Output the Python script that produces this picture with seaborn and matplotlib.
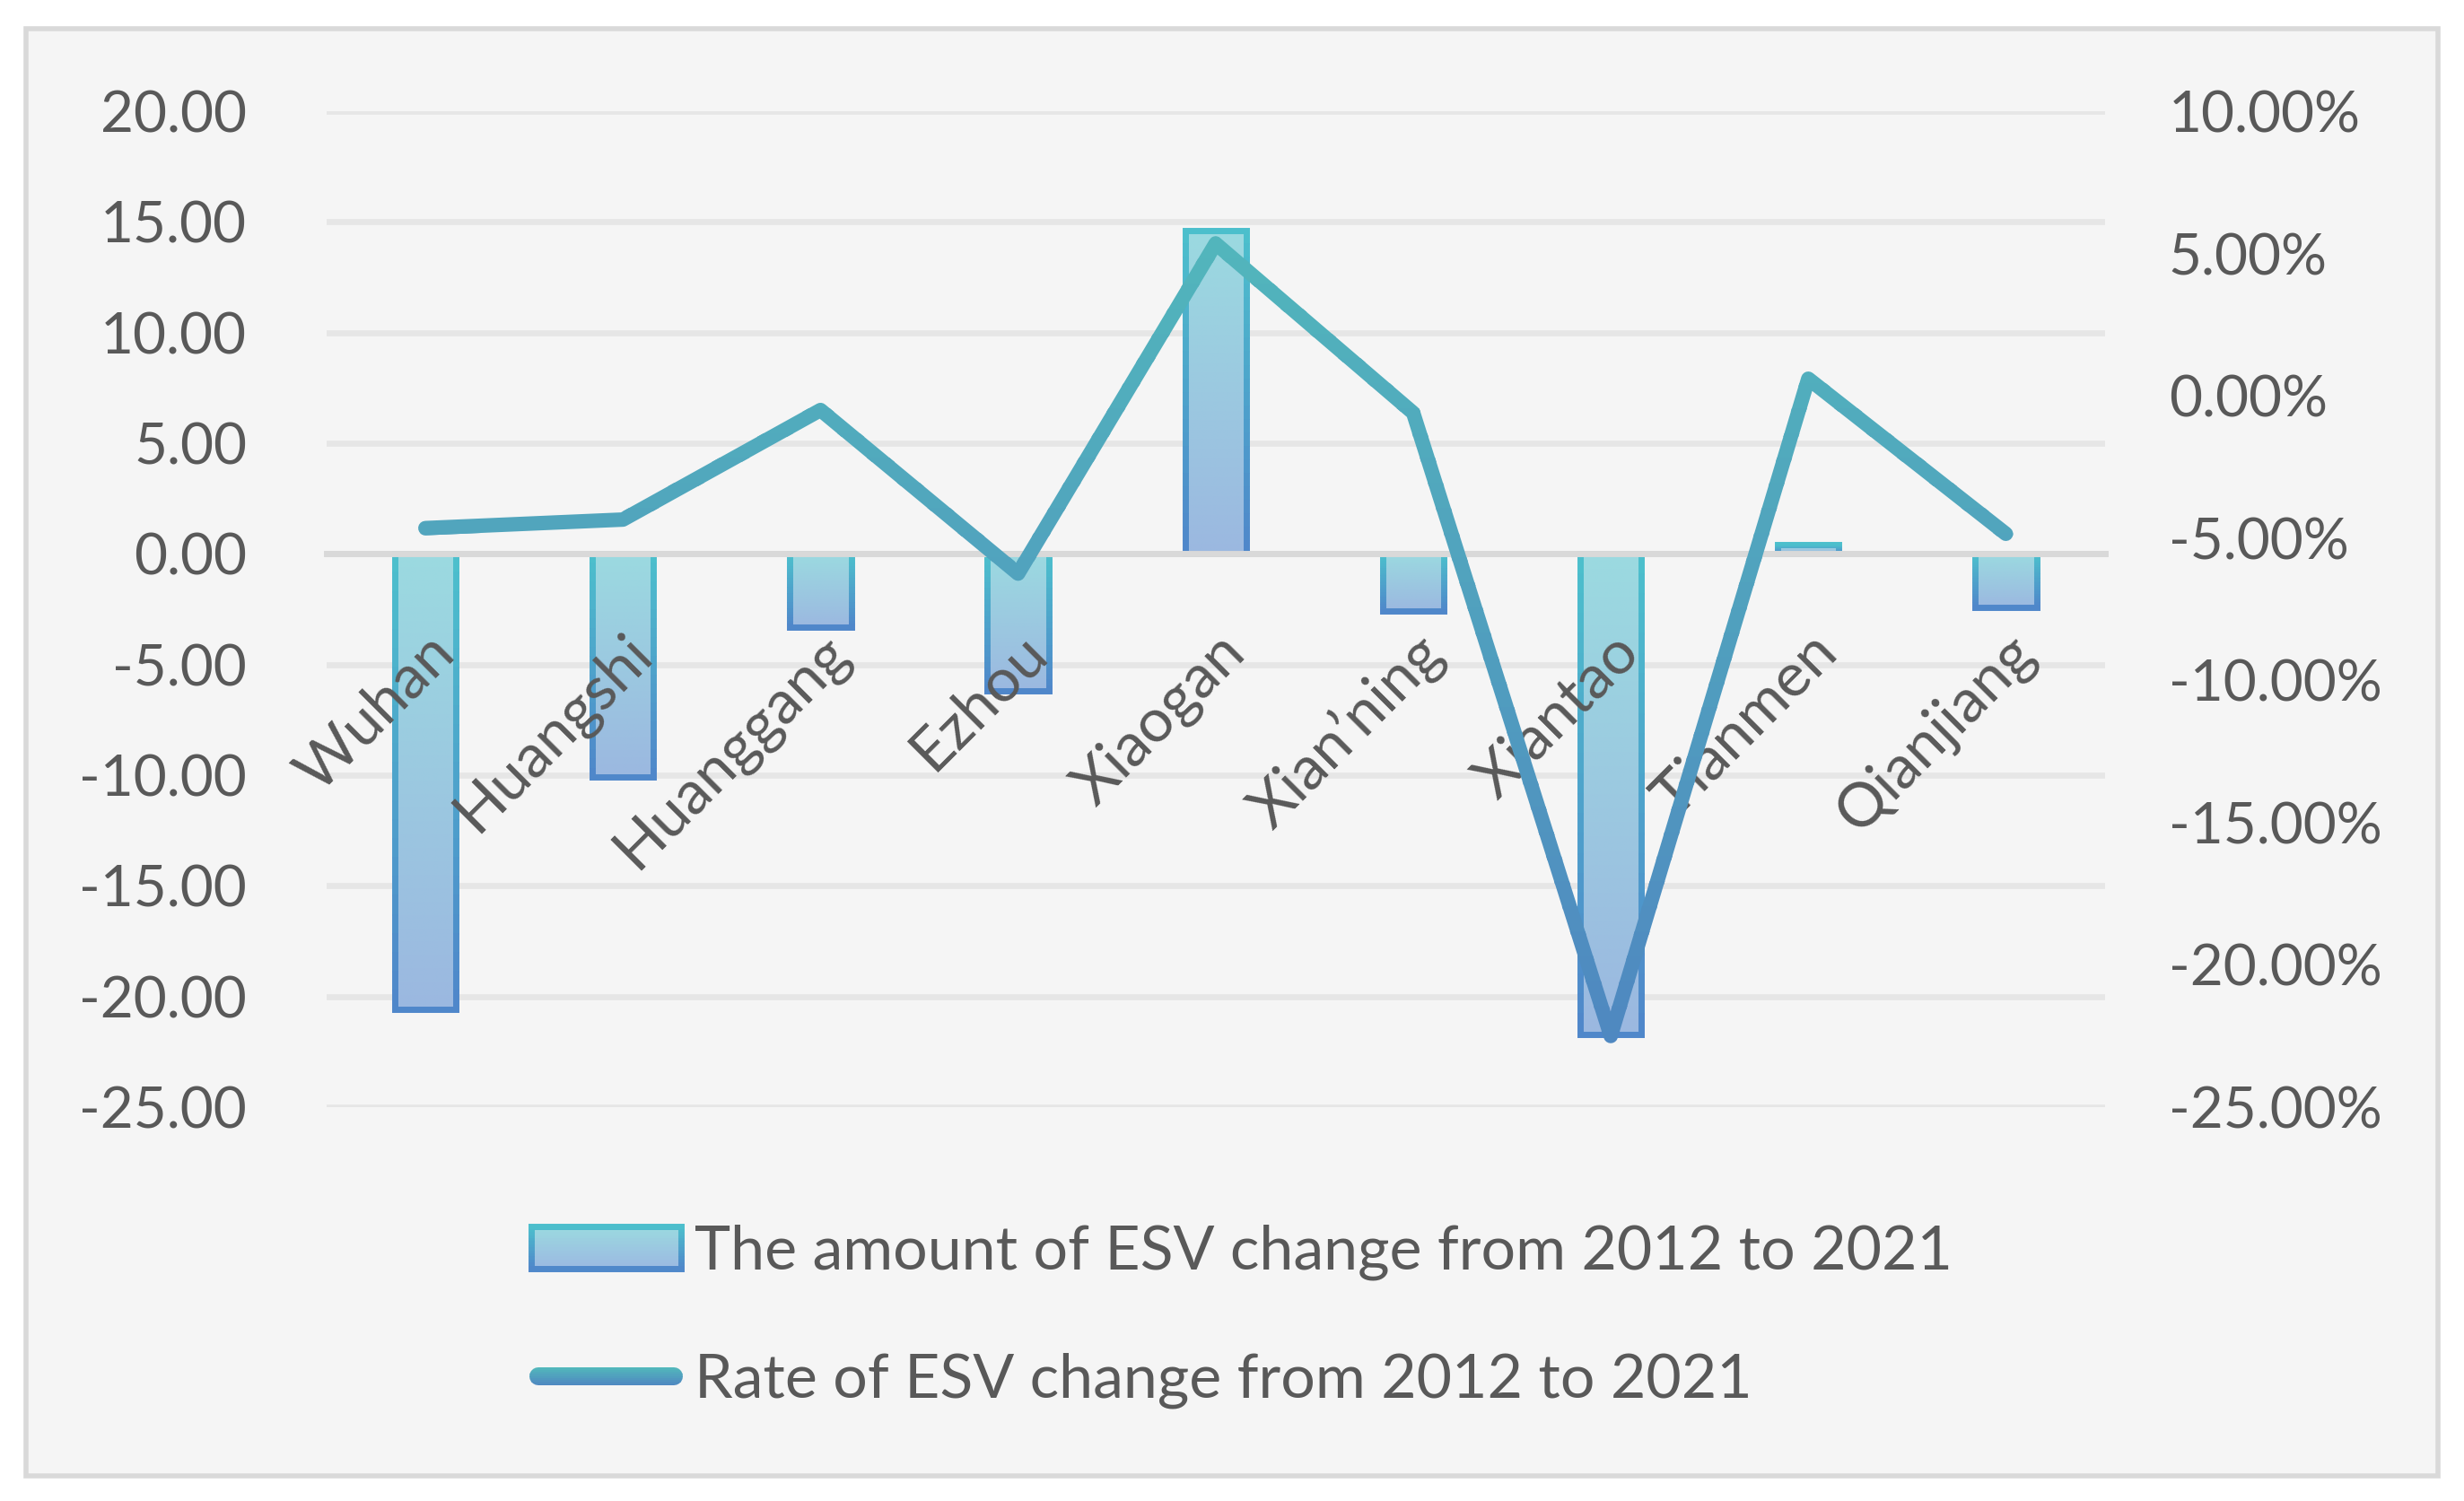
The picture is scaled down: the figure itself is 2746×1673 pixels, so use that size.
import matplotlib
matplotlib.use('Agg')
import matplotlib.pyplot as plt
import seaborn as sns
import pandas as pd
import numpy as np
from matplotlib.patches import Rectangle, Patch
from matplotlib.lines import Line2D
from matplotlib.colors import LinearSegmentedColormap, to_rgb
from matplotlib.legend_handler import HandlerBase

cities = ['Wuhan', 'Huangshi', 'Huanggang', 'Ezhou', 'Xiaogan',
          'Xian\u2019ning', 'Xiantao', 'Tianmen', 'Qianjiang']
esv_amount = [-20.6, -10.1, -3.3, -6.2, 14.6, -2.6, -21.7, 0.4, -2.4]
esv_rate = [-4.65, -4.35, -0.5, -6.25, 5.35, -0.6, -22.5, 0.6, -4.85]  # percent

left_ticks = [20, 15, 10, 5, 0, -5, -10, -15, -20, -25]
right_ticks = [10, 5, 0, -5, -10, -15, -20, -25]

bar_label = 'The amount of ESV change from 2012 to 2021'
line_label = 'Rate of ESV change from 2012 to 2021'

fill_top, fill_bot = '#9bdae0', '#9bb8e1'
edge_top, edge_bot = '#4cc0cc', '#4f86ca'
line_top, line_bot = '#52bdbb', '#4f84c1'
text_col = '#595959'


def mix(c1, c2, t):
    a, b = np.array(to_rgb(c1)), np.array(to_rgb(c2))
    return tuple(a + (b - a) * t)


sns.set_style('white')
plt.rcParams['font.family'] = ['Lato', 'DejaVu Sans']

df = pd.DataFrame({'city': cities, 'amount': esv_amount,
                   'rate': esv_rate, 'pos': np.arange(len(cities))})

fig = plt.figure(figsize=(13.73, 8.365), dpi=200)
fig.patch.set_facecolor('white')
fig.patches.append(Rectangle((29 / 2746, 1 - 1645 / 1673), (2717 - 29) / 2746,
                             (1645 - 32) / 1673, transform=fig.transFigure,
                             facecolor='#f5f5f5', edgecolor='#d9d9d9', lw=2,
                             zorder=-1))

ax = fig.add_axes([364 / 2746, 1 - 1234 / 1673, (2345.5 - 364) / 2746, (1234 - 124) / 1673])
ax.set_facecolor('none')

sns.barplot(data=df, x='city', y='amount', ax=ax, width=0.31, color=fill_top,
            saturation=1, zorder=2)
ax.set_ylim(-25, 20)
ax.set_xlim(-0.5, len(cities) - 0.5)

# gradient bars
cmap_fill = LinearSegmentedColormap.from_list('fill', [fill_bot, fill_top])
grad = np.linspace(0, 1, 256).reshape(-1, 1)
nb = 24
for p in list(ax.patches):
    x0, w = p.get_x(), p.get_width()
    y_lo = min(p.get_y(), p.get_y() + p.get_height())
    y_hi = max(p.get_y(), p.get_y() + p.get_height())
    p.set_facecolor('none')
    p.set_edgecolor('none')
    im = ax.imshow(grad, extent=[x0, x0 + w, y_lo, y_hi], origin='lower',
                   cmap=cmap_fill, aspect='auto', zorder=2, interpolation='bilinear')
    im.set_clip_path(p)
    hgt = (y_hi - y_lo) / nb
    for i in range(nb):
        t = (i + 0.5) / nb
        b_hi = y_hi - i * hgt + (1 if i == 0 else hgt * 0.05)
        b_lo = y_hi - (i + 1) * hgt - (1 if i == nb - 1 else hgt * 0.05)
        r = Rectangle((x0, y_lo), w, y_hi - y_lo, fill=False,
                      edgecolor=mix(edge_top, edge_bot, t), lw=2.5, zorder=2.1)
        ax.add_patch(r)
        r.set_clip_path(Rectangle((x0 - 0.2, b_lo), w + 0.4, b_hi - b_lo,
                                  transform=ax.transData))
ax.set_ylim(-25, 20)
ax.set_xlim(-0.5, len(cities) - 0.5)

ax.set_yticks(left_ticks)
ax.set_yticklabels([f'{v:.2f}' for v in left_ticks])
ax.grid(axis='y', color='#e6e6e6', lw=2.4)
ax.grid(axis='x', visible=False)
ax.yaxis.set_zorder(0.5)
ax.xaxis.set_zorder(2.6)
for s in ['top', 'left', 'right']:
    ax.spines[s].set_visible(False)
ax.spines['bottom'].set_position(('data', 0))
ax.spines['bottom'].set_color('#d9d9d9')
ax.spines['bottom'].set_linewidth(2.5)
ax.spines['bottom'].set_zorder(2.5)
ax.set_xlabel('')
ax.set_ylabel('')
ax.tick_params(axis='y', length=0, pad=32, labelsize=23, labelcolor=text_col)
ax.tick_params(axis='x', length=0, pad=28, labelsize=24.5, labelcolor=text_col)
for lbl in ax.get_xticklabels():
    lbl.set_rotation(45)
    lbl.set_ha('right')
    lbl.set_va('top')
    lbl.set_rotation_mode('anchor')

# line on the secondary axis
ax2 = ax.twinx()
sns.lineplot(data=df, x='pos', y='rate', ax=ax2, color=line_top, lw=5.8,
             sort=False)
ax2.set_ylim(-25, 10)
ax2.set_xlim(-0.5, len(cities) - 0.5)
base = ax2.lines[0]
base.set_visible(False)
nl = 40
for i in range(nl):
    t = (i + 0.5) / nl
    top = 1 - i / nl + (0.2 if i == 0 else 0.002)
    bot = 1 - (i + 1) / nl - (0.2 if i == nl - 1 else 0.002)
    ln = Line2D(base.get_xdata(), base.get_ydata(), color=mix(line_top, line_bot, t),
                lw=5.8, solid_capstyle='round', solid_joinstyle='round', zorder=3)
    ax2.add_line(ln)
    ln.set_clip_path(Rectangle((-0.1, bot), 1.2, top - bot, transform=ax2.transAxes))

ax2.set_yticks(right_ticks)
ax2.set_yticklabels([f'{v:.2f}%' for v in right_ticks])
ax2.tick_params(axis='y', length=0, pad=25.7, labelsize=23, labelcolor=text_col)
ax2.grid(False)
for s in ax2.spines.values():
    s.set_visible(False)
ax2.set_ylabel('')
ax2.set_xlabel('')
if ax2.get_legend() is not None:
    ax2.get_legend().remove()


class GradBarHandler(HandlerBase):
    def create_artists(self, legend, orig_handle, xdescent, ydescent, width,
                       height, fontsize, trans):
        arts = []
        n = 14
        x, y = -xdescent, -ydescent
        for i in range(n):
            t = (i + 0.5) / n
            y0 = y + height * (1 - (i + 1) / n)
            arts.append(Rectangle((x, y0), width, height / n * 1.05,
                                  facecolor=mix(fill_top, fill_bot, t),
                                  edgecolor='none', transform=trans))
        for i in range(n):
            t = (i + 0.5) / n
            y0 = y + height * (1 - (i + 1) / n) - (5 if i == n - 1 else 0)
            h0 = height / n * 1.05 + (5 if i in (0, n - 1) else 0)
            r = Rectangle((x, y), width, height, fill=False,
                          edgecolor=mix(edge_top, edge_bot, t), lw=2.5,
                          transform=trans)
            r.set_clip_path(Rectangle((x - 5, y0), width + 10, h0, transform=trans))
            arts.append(r)
        return arts


class GradLineHandler(HandlerBase):
    def create_artists(self, legend, orig_handle, xdescent, ydescent, width,
                       height, fontsize, trans):
        arts = []
        n = 10
        x, y = -xdescent, -ydescent
        yc = y + height / 2
        band = 8.0
        for i in range(n):
            t = (i + 0.5) / n
            y0 = yc + band / 2 - (i + 1) * band / n - (5 if i == n - 1 else 0)
            h0 = band / n * 1.1 + (5 if i in (0, n - 1) else 0)
            ln = Line2D([x + 3, x + width - 3], [yc, yc], lw=7.2,
                        color=mix(line_top, line_bot, t),
                        solid_capstyle='round', transform=trans)
            ln.set_clip_path(Rectangle((x - 10, y0), width + 20, h0, transform=trans))
            arts.append(ln)
        return arts


bar_handle = Patch(facecolor=fill_top, edgecolor=edge_top)
line_handle = Line2D([], [], color=line_top)
fig.legend([bar_handle, line_handle], [bar_label, line_label],
           handler_map={Patch: GradBarHandler(), Line2D: GradLineHandler()},
           loc='center', bbox_to_anchor=(0.504, 0.123), frameon=False,
           fontsize=24.5, labelcolor=text_col, handlelength=2.45,
           handleheight=0.7, handletextpad=0.22, labelspacing=1.19,
           borderpad=0.2)

fig.savefig('out.png', dpi=200, facecolor='white')
